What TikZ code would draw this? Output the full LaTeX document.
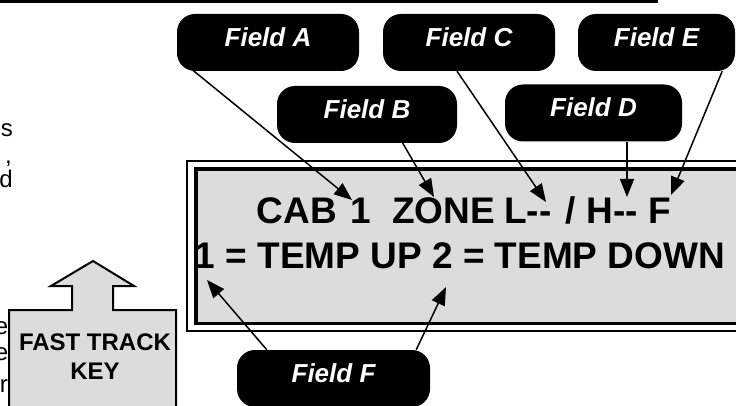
\documentclass[tikz,border=0pt]{standalone}
\usepackage{fontspec}
\setmainfont{Liberation Sans}
\usetikzlibrary{arrows.meta}
\definecolor{lcdgray}{RGB}{220,220,220}
\begin{document}
\begin{tikzpicture}[x=1pt,y=-1pt,
  callout/.style={fill=black, rounded corners=18pt, text=white,
    font=\fontsize{26}{31}\selectfont\bfseries\itshape,
    minimum height=57pt, inner sep=0pt, text depth=11pt},
  conn/.style={line width=1.5pt, -{Triangle[length=18pt,width=14pt]}},
  lcdtext/.style={font=\fontsize{37}{44}\selectfont\bfseries, inner sep=0pt, anchor=base west},
  keytext/.style={font=\fontsize{24}{29}\selectfont\bfseries, inner sep=0pt, anchor=base},
  frag/.style={font=\fontsize{24}{29}\selectfont, inner sep=0pt, anchor=base east}]
\useasboundingbox (0,0) rectangle (736,406);
\clip (0,0) rectangle (736,406);

% top rule
\fill (0,0) rectangle (658,3);

% cut-off text at left edge
\node[frag] (s1) at (13,137) {s};
\node[frag] (s2) at (12,164) {,};
\node[frag] (s3) at (13,188) {d};
\node[frag] (s4) at (8.5,334) {e};
\node[frag] (s5) at (8.5,360) {e};
\node[frag] (s6) at (8,392) {r};

% fast track key
\draw[line width=2pt, fill=lcdgray] (93,261) -- (134,286) -- (113,286) -- (113,310)
  -- (176,310) -- (176,420) -- (9,420) -- (9,310) -- (72,310) -- (72,286) -- (51,286) -- cycle;
\node[keytext] (ft1) at (95,350) {FAST TRACK};
\node[keytext] (ft2) at (95,379) {KEY};

% display
\draw[line width=2pt] (187,161) rectangle (760,331);
\draw[line width=3.5pt, fill=lcdgray] (196,169) rectangle (760,323.5);
\node[lcdtext] (l1) at (256.5,223) {CAB\hspace{14pt}1\hspace{21pt}ZONE\hspace{9pt}L-{}-\hspace{14pt}/\hspace{11pt}H-{}-\hspace{10pt}F};
\node[lcdtext] (l2) at (194.5,268) {1 = TEMP UP 2 = TEMP DOWN};

% callouts
\node[callout, minimum width=182pt] (fa) at (268,42.5) {Field A};
\node[callout, minimum width=172pt] (fc) at (469,42.5) {Field C};
\node[callout, minimum width=157pt] (fe) at (656.5,42.5) {Field E};
\node[callout, minimum width=180pt] (fb) at (367,114.5) {Field B};
\node[callout, minimum width=177pt] (fd) at (593.5,113) {Field D};
\node[callout, minimum width=193pt] (ff) at (333.5,378.5) {Field F};

% arrow targets
\coordinate (tA) at (352,200);
\coordinate (tB) at (434,197);
\coordinate (tC) at (546,202);
\coordinate (tD) at (627,197);
\coordinate (tE) at (671,195);
\coordinate (tF1) at (207,280);
\coordinate (tF2) at (446,287);

% connectors
\draw[conn] ([xshift=16pt,yshift=1pt]fa.south west) -- (tA);
\draw[conn] ([xshift=34pt,yshift=3pt]fb.south) -- (tB);
\draw[conn] ([xshift=-12pt]fc.south) -- (tC);
\draw[conn] ([xshift=33.5pt]fd.south) -- (tD);
\draw[conn] ([xshift=-13pt]fe.south east) -- (tE);
\draw[conn] ([xshift=30pt]ff.north west) -- (tF1);
\draw[conn] ([xshift=-14pt]ff.north east) -- (tF2);
\end{tikzpicture}
\end{document}
